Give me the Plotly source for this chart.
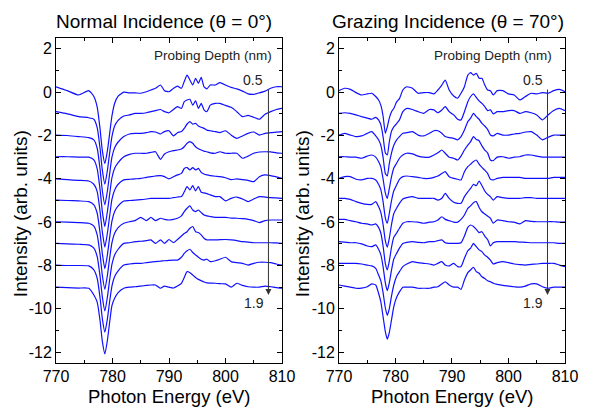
import plotly.graph_objects as go

# ---------------- data ----------------
offsets = [0, -1, -2, -3, -4, -5, -6, -7, -8, -9]

normal_energy = [770, 772, 774, 775.8, 776.7, 777.3, 777.8, 778.2, 778.65, 779.1, 779.5, 779.9, 780.4, 781.0,
                 782, 783, 784, 785, 786, 786.8, 787.6, 788.5, 789.2, 790.0, 790.8, 791.5, 792.2, 792.7,
                 793.2, 793.7, 794.2, 794.7, 795.2, 795.7, 796.2, 796.7, 797.3, 798.2, 799, 800, 801, 802,
                 803, 804, 805, 806, 807, 808, 809, 810]

normal_spectra = [
    [0.25, 0.07, -0.13, 0.07, -0.2, -0.7, -1.7, -2.7, -3.3, -2.7, -1.9, -1.1, -0.5, -0.18, 0.0, -0.03, -0.03, -0.05, 0.02, 0.1, 0.18, 0.33, 0.07, 0.02, 0.18, 0.28, 0.18, 0.49, 0.79, 0.56, 0.33, 0.64, 0.41, 0.68, 0.25, 0.15, 0.33, 0.33, 0.44, 0.33, 0.22, 0.15, 0.05, -0.08, -0.1, -0.03, 0.05, 0.18, 0.25, 0.25],
    [0.1, 0.0, -0.13, -0.18, -0.25, -0.65, -1.6, -2.6, -3.25, -2.6, -1.8, -1.05, -0.55, -0.3, -0.1, -0.05, 0.02, 0.02, 0.05, 0.1, 0.15, 0.2, 0.1, 0.05, 0.2, 0.33, 0.25, 0.56, 0.64, 0.67, 0.4, 0.6, 0.25, 0.48, 0.18, 0.1, 0.4, 0.48, 0.48, 0.39, 0.3, 0.1, -0.13, -0.07, -0.16, -0.25, -0.02, 0.1, 0.2, 0.25],
    [0.02, 0.0, -0.05, -0.1, -0.2, -0.6, -1.55, -2.55, -3.2, -2.55, -1.75, -1.0, -0.55, -0.3, -0.05, 0.07, 0.1, 0.1, 0.13, 0.18, 0.16, 0.07, 0.18, 0.22, -0.02, 0.13, 0.18, 0.33, 0.53, 0.64, 0.52, 0.56, 0.44, 0.38, 0.33, 0.25, 0.22, 0.18, 0.13, 0.22, 0.02, -0.13, -0.02, 0.1, 0.16, 0.02, 0.1, 0.13, 0.16, 0.18],
    [0.02, 0.02, 0.0, 0.0, -0.13, -0.55, -1.5, -2.5, -3.2, -2.5, -1.7, -0.95, -0.5, -0.25, 0.02, 0.13, 0.18, 0.18, 0.18, 0.22, 0.25, -0.1, 0.15, 0.25, 0.3, 0.33, 0.38, 0.48, 0.64, 0.72, 0.64, 0.48, 0.39, 0.33, 0.28, 0.25, 0.2, 0.18, 0.25, 0.18, 0.18, 0.18, -0.05, 0.05, 0.18, 0.24, 0.25, 0.24, 0.2, 0.18],
    [0.0, -0.04, -0.07, -0.1, -0.25, -0.6, -1.5, -2.45, -3.15, -2.5, -1.7, -0.95, -0.5, -0.25, -0.05, -0.02, 0.0, 0.02, 0.07, 0.1, 0.13, 0.15, 0.1, 0.0, 0.1, 0.18, 0.25, 0.48, 0.52, 0.41, 0.52, 0.41, 0.48, 0.3, 0.22, 0.18, 0.15, 0.12, 0.1, 0.05, -0.04, 0.0, -0.04, -0.07, -0.13, 0.1, 0.18, 0.15, 0.09, 0.02],
    [0.02, 0.0, -0.02, -0.05, -0.2, -0.6, -1.5, -2.45, -3.15, -2.5, -1.7, -0.95, -0.5, -0.25, -0.02, 0.0, 0.02, 0.04, 0.07, 0.1, 0.1, 0.1, 0.1, 0.1, 0.13, 0.16, 0.18, 0.4, 0.64, 0.49, 0.69, 0.44, 0.64, 0.38, 0.35, 0.32, 0.26, 0.18, 0.18, -0.02, 0.1, 0.16, 0.07, -0.05, 0.07, 0.18, 0.16, 0.13, 0.12, 0.1],
    [0.02, 0.0, -0.02, -0.05, -0.18, -0.6, -1.5, -2.45, -3.1, -2.45, -1.65, -0.95, -0.5, -0.25, -0.05, 0.02, 0.07, 0.22, 0.07, 0.22, 0.07, 0.18, 0.13, 0.1, 0.13, 0.18, 0.29, 0.49, 0.64, 0.75, 0.56, 0.49, 0.56, 0.44, 0.33, 0.29, 0.26, 0.22, 0.22, 0.22, 0.19, 0.18, 0.16, 0.13, 0.07, -0.02, 0.07, 0.1, 0.1, 0.1],
    [0.02, 0.0, -0.02, -0.05, -0.2, -0.6, -1.5, -2.45, -3.1, -2.45, -1.65, -0.95, -0.5, -0.25, 0.02, 0.05, 0.1, 0.12, 0.15, 0.18, 0.02, 0.18, 0.02, 0.2, 0.05, 0.2, 0.36, 0.48, 0.56, 0.72, 0.8, 0.56, 0.52, 0.41, 0.26, 0.18, 0.18, 0.18, 0.19, 0.2, 0.18, 0.15, 0.1, 0.08, 0.05, 0.05, 0.05, 0.05, 0.04, 0.02],
    [0.02, 0.0, 0.0, -0.02, -0.2, -0.6, -1.5, -2.45, -3.08, -2.45, -1.65, -0.95, -0.5, -0.25, 0.02, 0.07, 0.1, 0.1, 0.13, 0.16, 0.18, 0.2, 0.22, 0.24, 0.25, 0.25, 0.38, 0.56, 0.68, 0.75, 0.6, 0.49, 0.38, 0.29, 0.25, 0.29, 0.18, 0.22, 0.29, 0.38, 0.18, 0.13, 0.1, 0.02, 0.1, 0.15, 0.15, 0.13, 0.07, 0.02],
    [0.0, -0.02, -0.04, -0.05, -0.36, -0.7, -1.55, -2.5, -3.08, -2.45, -1.6, -0.85, -0.5, -0.25, -0.05, 0.0, 0.02, 0.05, 0.08, 0.1, 0.1, -0.05, 0.05, 0.0, -0.04, 0.05, 0.18, 0.45, 0.72, 0.67, 0.56, 0.45, 0.36, 0.3, 0.24, 0.2, 0.19, 0.18, 0.16, 0.15, 0.0, 0.18, 0.08, 0.02, 0.0, 0.0, 0.05, 0.02, -0.02, -0.05],
]

grazing_energy = [770, 771, 772, 773, 774, 775, 775.8, 776.5, 777.0, 777.4, 777.8, 778.2, 778.55, 778.9, 779.3,
                  779.7, 780.2, 780.7, 781.3, 782, 783, 784, 785, 786, 786.8, 787.5, 788.2, 788.8, 789.5,
                  790.3, 791.0, 791.6, 792.2, 792.8, 793.3, 793.8, 794.3, 794.8, 795.3, 795.8, 796.3, 796.8,
                  797.3, 798, 799, 800, 801, 802, 803, 804, 805, 806, 807, 808, 809, 810]

grazing_spectra = [
    [0.07, 0.18, 0.13, -0.02, -0.13, -0.08, -0.05, -0.2, -0.36, -0.6, -1.1, -1.9, -1.6, -1.2, -0.9, -0.75, -0.45, -0.3, 0.1, 0.25, 0.18, -0.05, -0.02, -0.02, -0.08, 0.1, 0.33, 0.56, 0.1, -0.18, -0.28, -0.05, 0.25, 0.79, 0.9, 0.79, 0.87, 0.64, 0.64, 0.33, 0.1, 0.07, -0.13, 0.07, 0.07, -0.08, -0.13, -0.36, -0.2, -0.05, -0.08, -0.02, -0.05, 0.07, 0.13, 0.02],
    [0.02, 0.05, 0.02, -0.05, -0.13, -0.2, -0.25, -0.16, -0.28, -0.5, -1.05, -1.8, -1.9, -1.3, -0.8, -0.6, -0.45, -0.28, 0.1, 0.25, 0.2, 0.1, 0.02, 0.2, 0.18, 0.05, 0.18, 0.33, 0.1, -0.05, -0.25, -0.28, 0.1, 0.56, 0.8, 0.92, 0.76, 0.6, 0.48, 0.33, 0.15, 0.18, 0.0, 0.1, 0.1, 0.15, 0.15, 0.02, 0.1, 0.05, -0.05, -0.28, -0.05, 0.15, 0.25, 0.15],
    [0.02, 0.1, 0.02, -0.05, -0.02, 0.1, 0.18, -0.02, -0.2, -0.45, -1.0, -1.75, -1.87, -1.3, -0.8, -0.45, -0.2, -0.05, 0.1, 0.13, 0.18, 0.02, -0.02, 0.1, 0.22, 0.22, 0.1, -0.05, -0.1, -0.13, -0.2, -0.05, 0.25, 0.64, 0.8, 1.02, 0.87, 0.75, 0.56, 0.44, 0.28, 0.02, -0.02, 0.1, 0.02, 0.02, 0.07, 0.1, 0.16, 0.18, 0.02, -0.2, -0.08, 0.02, 0.02, 0.02],
    [0.02, 0.02, 0.0, 0.0, -0.05, 0.05, 0.1, 0.0, -0.2, -0.45, -1.0, -1.65, -1.9, -1.45, -0.9, -0.5, -0.28, -0.05, 0.1, 0.18, 0.15, 0.05, 0.0, 0.0, 0.1, 0.2, 0.33, 0.18, 0.0, -0.05, -0.13, 0.05, 0.33, 0.56, 0.72, 0.95, 0.82, 0.76, 0.52, 0.33, 0.2, -0.13, -0.16, 0.0, 0.02, -0.05, 0.0, 0.02, 0.1, 0.1, 0.05, 0.0, 0.0, 0.0, 0.0, 0.0],
    [0.02, 0.1, 0.1, -0.02, -0.05, 0.02, 0.02, -0.05, -0.25, -0.5, -1.05, -1.8, -2.05, -1.6, -1.0, -0.55, -0.28, -0.02, 0.1, 0.13, 0.1, 0.07, 0.02, 0.02, 0.07, 0.13, 0.25, 0.33, 0.1, 0.02, -0.02, -0.05, 0.33, 0.56, 0.68, 0.8, 0.87, 0.68, 0.53, 0.4, 0.25, -0.02, -0.05, 0.02, 0.07, 0.07, 0.07, 0.07, 0.02, 0.02, 0.02, 0.02, 0.02, 0.07, 0.07, 0.07],
    [0.1, 0.1, 0.05, -0.05, -0.13, -0.18, -0.18, -0.05, -0.28, -0.55, -1.1, -1.85, -2.15, -1.75, -1.1, -0.6, -0.35, -0.13, 0.07, 0.13, 0.18, 0.1, 0.1, 0.1, 0.1, 0.02, 0.1, 0.33, 0.1, -0.08, -0.13, -0.13, 0.18, 0.4, 0.56, 0.75, 0.68, 0.9, 0.68, 0.44, 0.28, 0.18, 0.02, 0.18, 0.13, 0.1, 0.1, 0.1, 0.13, 0.13, 0.1, 0.1, 0.1, 0.1, 0.1, 0.1],
    [0.13, 0.13, 0.07, 0.02, -0.05, -0.08, -0.13, -0.08, -0.24, -0.5, -1.1, -1.9, -2.2, -1.8, -1.15, -0.7, -0.5, -0.28, -0.05, 0.02, 0.02, 0.0, -0.05, 0.0, 0.02, 0.1, 0.25, 0.13, 0.07, 0.0, 0.0, 0.13, 0.33, 0.64, 0.75, 0.9, 0.95, 0.68, 0.48, 0.38, 0.28, 0.18, -0.05, 0.1, 0.07, 0.02, 0.0, -0.08, 0.07, 0.04, 0.02, 0.02, 0.02, 0.02, 0.0, 0.0],
    [0.1, 0.08, 0.05, 0.05, 0.0, -0.1, -0.13, -0.05, -0.25, -0.5, -1.05, -1.8, -2.16, -1.8, -1.2, -0.7, -0.44, -0.2, 0.02, 0.07, 0.1, 0.07, 0.05, 0.1, 0.1, 0.15, 0.18, 0.05, 0.02, 0.02, 0.02, 0.05, 0.36, 0.76, 0.87, 0.8, 0.67, 0.52, 0.56, 0.36, 0.2, -0.1, 0.05, 0.1, 0.1, 0.1, 0.1, 0.08, 0.07, 0.05, 0.05, 0.05, 0.05, 0.05, 0.02, 0.02],
    [0.1, 0.1, 0.1, 0.1, 0.07, 0.02, -0.02, -0.13, -0.44, -0.7, -1.25, -1.95, -2.3, -2.0, -1.4, -0.9, -0.5, -0.28, -0.05, 0.07, 0.18, 0.13, 0.1, 0.07, 0.02, 0.1, 0.18, 0.02, -0.02, 0.1, -0.05, -0.05, 0.33, 0.68, 0.8, 1.02, 0.87, 0.72, 0.64, 0.48, 0.38, 0.25, 0.07, 0.13, 0.18, 0.13, 0.07, 0.04, 0.02, 0.05, 0.07, 0.1, 0.1, 0.1, 0.02, -0.05],
    [0.1, 0.05, 0.0, -0.05, -0.04, 0.02, 0.15, 0.1, -0.28, -0.67, -1.36, -2.05, -2.4, -2.1, -1.5, -0.9, -0.47, -0.22, 0.0, 0.0, 0.0, -0.05, -0.05, -0.05, 0.0, 0.02, 0.15, 0.25, 0.1, 0.0, 0.0, -0.1, 0.33, 0.67, 0.8, 0.92, 0.72, 0.64, 0.48, 0.4, 0.3, 0.25, 0.18, 0.13, 0.08, 0.05, 0.02, 0.0, 0.05, 0.15, 0.15, 0.02, -0.05, 0.0, 0.0, 0.0],
]

panel_titles = ["Normal Incidence (\u03b8 = 0\u00b0)", "Grazing Incidence (\u03b8 = 70\u00b0)"]
y_tick_values = [2, 0, -2, -4, -6, -8, -10, -12]
y_tick_labels = ["2", "0", "-2", "-4", "-6", "-8", "-10", "-12"]
x_tick_values = [770, 780, 790, 800, 810]
depth_labels = ["0.5", "1.9"]
depth_arrow_x = [807.6, 806.9]
depth_arrow_y = [0.19, -9.36]

# ---------------- figure ----------------
FONT = "Arial, Liberation Sans, sans-serif"
fig = go.Figure()

panels = [(normal_energy, normal_spectra, "x", "y"), (grazing_energy, grazing_spectra, "x2", "y2")]
for energy, spectra, xa, ya in panels:
    for off, spec in zip(offsets, spectra):
        fig.add_trace(go.Scatter(
            x=energy, y=[v + off for v in spec], mode="lines",
            line=dict(color="#1010ff", width=1.2, shape="spline", smoothing=0.5),
            xaxis=xa, yaxis=ya, showlegend=False, hoverinfo="skip"))

axis_common = dict(showline=True, linecolor="black", linewidth=1, mirror="ticks",
                   ticks="inside", ticklen=5, tickwidth=1, tickcolor="black",
                   showgrid=False, zeroline=False,
                   tickfont=dict(family=FONT, size=16, color="black"))

xcommon = dict(axis_common, range=[770, 810], tickvals=x_tick_values, ticklabelstandoff=-1,
               minor=dict(tickvals=[775, 785, 795, 805], ticklen=3, ticks="inside", tickcolor="black"))
ycommon = dict(axis_common, range=[-12.5, 2.5], tickvals=y_tick_values, ticktext=y_tick_labels,
               minor=dict(tickvals=[1, -1, -3, -5, -7, -9, -11], ticklen=3, ticks="inside", tickcolor="black"))

# the page body adds an 8 px margin, so the figure is drawn 8 px smaller and offset
L = 56
W = 518
d1 = [0, 230 / W]
d2 = [(344 - L) / W, 1]

fig.update_layout(
    width=582, height=399,
    margin=dict(l=48, r=16, t=30, b=44),
    paper_bgcolor="white", plot_bgcolor="white",
    font=dict(family=FONT, color="black"),
    xaxis=dict(xcommon, domain=d1, anchor="y"),
    yaxis=dict(ycommon, domain=[0, 1], anchor="x"),
    xaxis2=dict(xcommon, domain=d2, anchor="y2"),
    yaxis2=dict(ycommon, domain=[0, 1], anchor="x2"),
)

annotations = []
# panel titles
for xc, title in zip([(166 - L) / W, (455 - L) / W], panel_titles):
    annotations.append(dict(text=title, x=xc, y=1.05, xref="paper", yref="paper",
                            xanchor="center", yanchor="middle", showarrow=False,
                            font=dict(family=FONT, size=19, color="black")))
# x axis titles
for xc in [(171 - L) / W, (459 - L) / W]:
    annotations.append(dict(text="Photon Energy (eV)", x=xc, y=-0.103, xref="paper", yref="paper",
                            xanchor="center", yanchor="middle", showarrow=False, borderpad=0,
                            font=dict(family=FONT, size=18.5, color="black")))
# y axis titles
for xc in [(20 - L) / W, (307 - L) / W]:
    annotations.append(dict(text="Intensity (arb. units)", x=xc, y=0.46, xref="paper", yref="paper",
                            xanchor="center", yanchor="middle", textangle=-90, showarrow=False,
                            font=dict(family=FONT, size=19, color="black")))
# probing depth labels and arrows
for xa, ya, ax_x, lbl_x, pd_x in [("x", "y", depth_arrow_x[0], 805.0, 797.8),
                                  ("x2", "y2", depth_arrow_x[1], 804.4, 797.3)]:
    annotations.append(dict(text="Probing Depth (nm)", x=pd_x, y=1.67, xref=xa, yref=ya,
                            showarrow=False, font=dict(family=FONT, size=13.5, color="#222")))
    annotations.append(dict(text=depth_labels[0], x=lbl_x - 0.05, y=0.56, xref=xa, yref=ya,
                            showarrow=False, font=dict(family=FONT, size=14, color="#222")))
    annotations.append(dict(text=depth_labels[1], x=lbl_x, y=-9.73, xref=xa, yref=ya,
                            showarrow=False, font=dict(family=FONT, size=14, color="#222")))
    annotations.append(dict(text="", x=ax_x, y=depth_arrow_y[1], xref=xa, yref=ya,
                            ax=ax_x, ay=depth_arrow_y[0], axref=xa, ayref=ya,
                            showarrow=True, arrowhead=2, arrowsize=1.2, arrowwidth=1,
                            arrowcolor="#333"))
fig.update_layout(annotations=annotations)

fig.write_html("out.html")
